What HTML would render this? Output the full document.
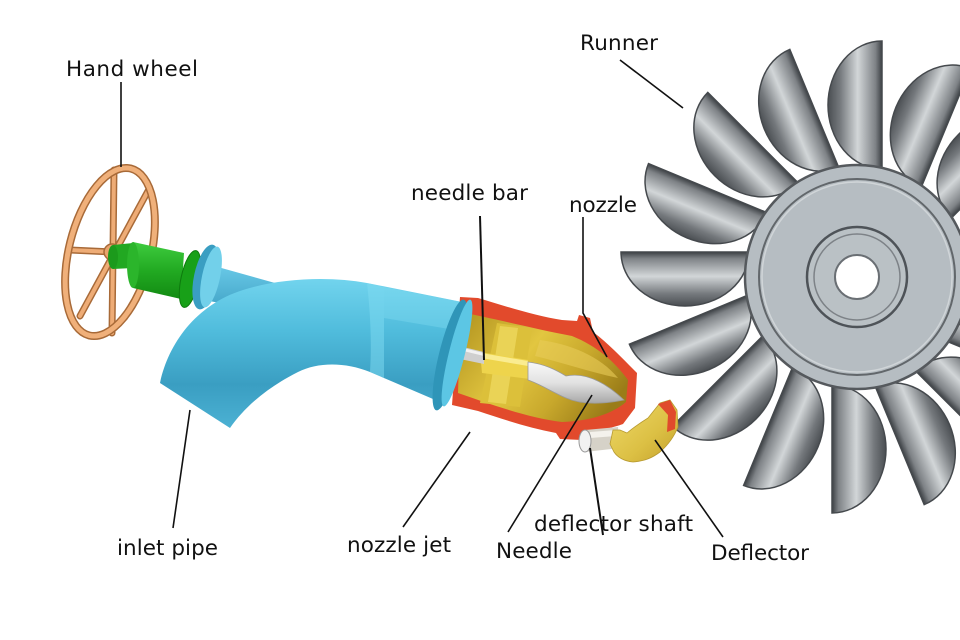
<!DOCTYPE html>
<html><head><meta charset="utf-8"><style>
html,body{margin:0;padding:0;background:#fff;}
svg{display:block;}
text{font-family:"DejaVu Sans","Liberation Sans",sans-serif;font-size:21.5px;fill:#111;}
</style></head><body>
<svg width="960" height="640" viewBox="0 0 960 640" xmlns="http://www.w3.org/2000/svg">
<defs>
  <linearGradient id="bkg" gradientUnits="userSpaceOnUse" x1="0" y1="25" x2="0" y2="-29">
    <stop offset="0" stop-color="#3c4044"/>
    <stop offset="0.12" stop-color="#7e8286"/>
    <stop offset="0.45" stop-color="#d2d6d8"/>
    <stop offset="0.78" stop-color="#74787c"/>
    <stop offset="1" stop-color="#4a4e52"/>
  </linearGradient>
  <path id="bk" d="M236,25 A64 54 0 0 0 108,25 Z" fill="url(#bkg)" stroke="#45494d" stroke-width="1.5"/>
  <linearGradient id="pipeg" gradientUnits="userSpaceOnUse" x1="0" y1="278" x2="0" y2="430">
    <stop offset="0" stop-color="#72d4ee"/>
    <stop offset="0.35" stop-color="#50bcdc"/>
    <stop offset="0.7" stop-color="#3a9ec2"/>
    <stop offset="1" stop-color="#4cb2d4"/>
  </linearGradient>
  <linearGradient id="rodg" x1="0" y1="0" x2="0" y2="1">
    <stop offset="0" stop-color="#6cccea"/>
    <stop offset="1" stop-color="#3a9cc0"/>
  </linearGradient>
  <linearGradient id="greeng" x1="0" y1="0" x2="0" y2="1">
    <stop offset="0" stop-color="#3fcc3f"/>
    <stop offset="0.5" stop-color="#22aa22"/>
    <stop offset="1" stop-color="#128a12"/>
  </linearGradient>
  <linearGradient id="goldg" gradientUnits="userSpaceOnUse" x1="470" y1="320" x2="600" y2="420">
    <stop offset="0" stop-color="#b89a24"/>
    <stop offset="0.4" stop-color="#e2c640"/>
    <stop offset="0.7" stop-color="#c8a82c"/>
    <stop offset="1" stop-color="#9a7c18"/>
  </linearGradient>
  <linearGradient id="defg" x1="0" y1="0" x2="1" y2="1">
    <stop offset="0" stop-color="#efda6a"/>
    <stop offset="0.6" stop-color="#dcc044"/>
    <stop offset="1" stop-color="#c4a02c"/>
  </linearGradient>
  <linearGradient id="needg" x1="0" y1="0" x2="0" y2="1">
    <stop offset="0" stop-color="#f8f8f8"/>
    <stop offset="0.5" stop-color="#e2e2e2"/>
    <stop offset="1" stop-color="#a8a8a8"/>
  </linearGradient>
</defs>

<!-- Runner -->
<g transform="translate(857,277)">
  <use href="#bk" transform="rotate(-67.5)"/>
  <use href="#bk" transform="rotate(-45)"/>
  <use href="#bk" transform="rotate(-22.5)"/>
  <use href="#bk" transform="rotate(0)"/>
  <use href="#bk" transform="rotate(22.5)"/>
  <use href="#bk" transform="rotate(45)"/>
  <use href="#bk" transform="rotate(67.5)"/>
  <use href="#bk" transform="rotate(90)"/>
  <use href="#bk" transform="rotate(112.5)"/>
  <use href="#bk" transform="rotate(135)"/>
  <use href="#bk" transform="rotate(157.5)"/>
  <use href="#bk" transform="rotate(180)"/>
  <use href="#bk" transform="rotate(-157.5)"/>
  <use href="#bk" transform="rotate(-135)"/>
  <use href="#bk" transform="rotate(-112.5)"/>
  <use href="#bk" transform="rotate(-90)"/>
  <circle r="112" fill="#b6bdc2" stroke="#55595d" stroke-width="2.5"/>
  <circle r="98" fill="none" stroke="#62676b" stroke-width="2"/>
  <circle r="95" fill="none" stroke="#d0d5d8" stroke-width="1.5"/>
  <circle r="50" fill="#bac1c5" stroke="#4e5358" stroke-width="2.5"/>
  <circle r="43" fill="none" stroke="#7d8287" stroke-width="1.5"/>
  <circle r="22" fill="#fff" stroke="#6a6f74" stroke-width="2"/>
</g>

<!-- Hand wheel -->
<g stroke-linecap="round">
  <line x1="114" y1="170" x2="112" y2="333" stroke="#a86a38" stroke-width="7"/>
  <line x1="148" y1="191" x2="80" y2="316" stroke="#a86a38" stroke-width="7"/>
  <line x1="70" y1="250" x2="113" y2="252" stroke="#a86a38" stroke-width="7"/>
  <line x1="114" y1="170" x2="112" y2="333" stroke="#eeac76" stroke-width="4"/>
  <line x1="148" y1="191" x2="80" y2="316" stroke="#eeac76" stroke-width="4"/>
  <line x1="70" y1="250" x2="113" y2="252" stroke="#eeac76" stroke-width="4"/>
</g>
<g transform="rotate(14 110 252)">
  <ellipse cx="110" cy="252" rx="41" ry="86" fill="none" stroke="#a86a38" stroke-width="8"/>
  <ellipse cx="110" cy="252" rx="41" ry="86" fill="none" stroke="#f0b07a" stroke-width="5"/>
</g>
<circle cx="112" cy="252" r="8" fill="#e8a46c" stroke="#a86a38" stroke-width="1.5"/>

<!-- rod behind elbow -->
<path d="M200,262 L300,290 L300,318 L204,300 Z" fill="url(#rodg)"/>

<!-- green valve body -->
<path d="M113,245 L133,243 L133,268 L113,269 Z" fill="#22a822"/>
<ellipse cx="113" cy="257" rx="5" ry="12" fill="#1c9a1c"/>
<path d="M133,242 L184,253 L181,299 L133,288 Z" fill="url(#greeng)"/>
<ellipse cx="133" cy="265" rx="6" ry="23" fill="#2bb52b"/>
<ellipse cx="190" cy="279" rx="9" ry="29" transform="rotate(12 190 279)" fill="#18a018" stroke="#0d7a0d" stroke-width="1"/>

<!-- blue valve flange -->
<ellipse cx="206" cy="277" rx="12" ry="33" transform="rotate(12 206 277)" fill="#3a9ec2"/>
<ellipse cx="211" cy="277" rx="9" ry="31" transform="rotate(12 211 277)" fill="#72d0ea"/>

<!-- elbow & pipe -->
<path d="M160,383 C168,345 195,305 243,290 C280,278 330,276 367,283 L462,302 L440,402 L370,372 C345,362 318,362 298,372 C270,386 246,405 230,428 Z" fill="url(#pipeg)"/>
<path d="M367,283 L384,287 L384,378 L370,372 C372,340 370,310 367,283 Z" fill="#7fdcf2" opacity="0.5"/>
<path d="M384,287 L462,302 L455,330 L384,318 Z" fill="#86e0f4" opacity="0.35"/>

<!-- nozzle red body -->
<path d="M460,297 L478,298 C505,306 535,316 562,320 L577,321 L579,315 L590,318 L593,332 C608,343 622,358 634,370 L637,373 L635,408 L623,424 C612,428 598,431 585,432 L582,440 L560,439 L556,433 C530,428 505,420 478,411 L452,405 Z" fill="#e24a2c"/>
<!-- gold interior -->
<path d="M470,314 C500,320 540,330 572,336 C597,346 615,362 628,380 L626,402 C612,414 590,421 562,422 C530,418 495,406 458,393 L460,330 Z" fill="url(#goldg)"/>
<path d="M540,340 C570,344 600,356 618,378 C590,372 560,362 535,356 Z" fill="#e8cc58" opacity="0.6"/>
<!-- guide blocks -->
<path d="M497,323 L532,328 L520,407 L480,403 Z" fill="#dcc03a"/>
<path d="M500,326 L518,328 L506,404 L488,402 Z" fill="#f0dc62" opacity="0.7"/>
<!-- sleeve -->
<path d="M480,352 L528,360 L530,379 L482,373 Z" fill="#eed44c"/>
<path d="M481,353 L528,361 L528,366 L481,358 Z" fill="#faec90"/>
<!-- silver needle bar -->
<path d="M455,345 L484,352 L484,364 L455,358 Z" fill="#cfcfcf"/>
<path d="M455,346 L484,353 L484,356 L455,349 Z" fill="#f2f2f2"/>
<!-- needle -->
<path d="M528,362 C545,364 556,370 566,376 C585,372 605,382 624,400 C604,404 582,405 566,398 C552,392 540,384 528,380 Z" fill="url(#needg)" stroke="#9a9a9a" stroke-width="0.8"/>

<!-- nozzle flange -->
<ellipse cx="450" cy="355" rx="11" ry="57" transform="rotate(14 450 355)" fill="#2f95b8"/>
<ellipse cx="457" cy="353" rx="8" ry="55" transform="rotate(14 457 353)" fill="#5cc6e4"/>

<!-- deflector shaft -->
<path d="M585,430 L618,427 L620,448 L585,452 Z" fill="#d6d2c8"/>
<path d="M590,432 L616,430 L616,436 L590,438 Z" fill="#f4f2ec"/>
<ellipse cx="585" cy="441" rx="6" ry="11" fill="#f2f2f2" stroke="#999" stroke-width="1"/>

<!-- deflector -->
<path d="M613,430 L620,430 L627,433 C633,428 640,423 648,418 L660,403 L670,400 L677,410 L678,427 C674,437 668,445 660,452 C652,458 645,461 633,462 C624,461 618,458 614,452 L610,444 Z" fill="url(#defg)" stroke="#b89a30" stroke-width="0.8"/>
<path d="M658,404 L670,400 L676,412 L675,429 L667,432 L668,415 Z" fill="#e04a2c"/>

<!-- leader lines -->
<g stroke="#111" stroke-width="1.6" fill="none">
  <line x1="121" y1="82" x2="121" y2="167"/>
  <line x1="620" y1="60" x2="683" y2="108"/>
  <line x1="480" y1="216" x2="484" y2="360" stroke-width="2"/>
  <polyline points="583,217 583,313 607,357"/>
  <line x1="190" y1="410" x2="173" y2="528"/>
  <line x1="470" y1="432" x2="403" y2="527"/>
  <line x1="592" y1="395" x2="508" y2="532"/>
  <line x1="590" y1="448" x2="603" y2="535" stroke-width="2"/>
  <line x1="655" y1="440" x2="723" y2="537"/>
</g>

<!-- labels -->
<text x="66" y="76" textLength="132">Hand wheel</text>
<text x="580" y="50" textLength="78">Runner</text>
<text x="411" y="200" textLength="117">needle bar</text>
<text x="569" y="212" textLength="68">nozzle</text>
<text x="117" y="555" textLength="101">inlet pipe</text>
<text x="347" y="552" textLength="104">nozzle jet</text>
<text x="496" y="558" textLength="76">Needle</text>
<text x="534" y="531" textLength="159">deflector shaft</text>
<text x="711" y="560" textLength="98">Deflector</text>
</svg>
</body></html>
